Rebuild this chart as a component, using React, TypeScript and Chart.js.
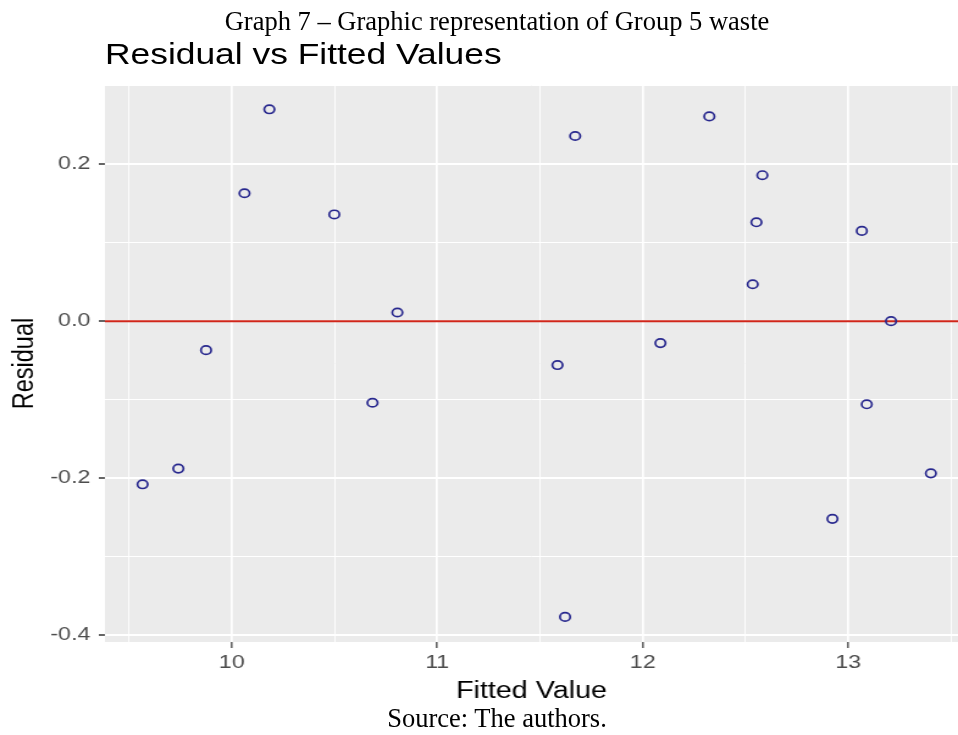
import React, { useEffect, useRef } from 'react';
import { Chart, registerables } from 'chart.js';

Chart.register(...registerables);

// ---- data ----
const fittedValues = [
  9.566, 9.740, 9.875, 10.062, 10.183, 10.499, 10.685, 10.806, 11.585, 11.622, 11.671,
  12.086, 12.324, 12.535, 12.553, 12.582, 12.923, 13.066, 13.090, 13.208, 13.402,
];
const residuals = [
  -0.208, -0.188, -0.037, 0.163, 0.270, 0.136, -0.104, 0.011, -0.056, -0.377, 0.236,
  -0.028, 0.261, 0.047, 0.126, 0.186, -0.252, 0.115, -0.106, 0.000, -0.194,
];
const referenceResidual = 0;
const xRange = [9.383, 13.534];
const yRange = [-0.409, 0.301];
const xTickStep = 0.5;
const yTickStep = 0.1;

const CAPTION = 'Graph 7 \u2013 Graphic representation of Group 5 waste';
const PLOT_TITLE = 'Residual vs Fitted Values';
const X_TITLE = 'Fitted Value';
const Y_TITLE = 'Residual';
const SOURCE = 'Source: The authors.';

// ---- layout ----
const PAGE_W = 958;
const PAGE_H = 735;
const INNER_W = 785; // chart drawn at this width then stretched horizontally (as in the reference)
const STRETCH = PAGE_W / INNER_W;
const SANS = "'Liberation Sans', Arial, Helvetica, sans-serif";
const SERIF = "'Liberation Serif', 'Times New Roman', Times, serif";

const isMajorX = (v: number) => Math.abs(v - Math.round(v)) < 1e-6;
const isMajorY = (v: number) => Math.abs(Math.round(v * 10)) % 2 === 0;

const panelBackground = {
  id: 'panelBackground',
  beforeDraw(chart: any) {
    const { ctx, chartArea: a } = chart;
    ctx.save();
    ctx.fillStyle = '#EBEBEB';
    ctx.fillRect(a.left, a.top, a.right - a.left, a.bottom - a.top);
    ctx.restore();
  },
};

export default function App() {
  const canvasRef = useRef<HTMLCanvasElement | null>(null);

  useEffect(() => {
    const canvas = canvasRef.current;
    if (!canvas) return;
    const points = fittedValues.map((x, i) => ({ x, y: residuals[i] }));
    const refLine = [
      { x: xRange[0], y: referenceResidual },
      { x: xRange[1], y: referenceResidual },
    ];
    const chart = new Chart(canvas, {
      type: 'scatter',
      data: {
        datasets: [
          {
            label: 'Residuals',
            data: points,
            pointStyle: 'circle',
            pointRadius: 4.2,
            pointBorderWidth: 1.7,
            pointBorderColor: '#28288e',
            pointBackgroundColor: 'rgba(0,0,0,0)',
            showLine: false,
          },
          {
            label: 'Zero',
            data: refLine,
            showLine: true,
            borderColor: '#d0261a',
            borderWidth: 2,
            pointRadius: 0,
          },
        ],
      },
      options: {
        responsive: false,
        animation: false,
        layout: { autoPadding: false, padding: { top: 85, right: 0, bottom: 0, left: 0 } },
        plugins: {
          legend: { display: false },
          tooltip: { enabled: false },
          title: { display: false },
        },
        scales: {
          x: {
            type: 'linear',
            min: xRange[0],
            max: xRange[1],
            afterFit: (scale: any) => {
              scale.height = 93;
              scale.paddingLeft = 0;
              scale.paddingRight = 0;
            },
            border: { display: false },
            grid: {
              color: '#FFFFFF',
              lineWidth: (ctx: any) => (ctx.tick && isMajorX(ctx.tick.value) ? 1.7 : 0.9),
              drawTicks: true,
              tickLength: 6,
              tickWidth: 1.2,
              tickColor: (ctx: any) => (ctx.tick && isMajorX(ctx.tick.value) ? '#333333' : 'rgba(0,0,0,0)'),
            },
            ticks: {
              stepSize: xTickStep,
              includeBounds: false,
              autoSkip: false,
              maxRotation: 0,
              minRotation: 0,
              padding: 3,
              color: '#4D4D4D',
              font: { family: SANS, size: 19 },
              callback: (v: any) => (isMajorX(Number(v)) ? String(Math.round(Number(v))) : ''),
            },
            title: {
              display: true,
              text: X_TITLE,
              color: '#000000',
              font: { family: SANS, size: 23.5 },
              padding: { top: 0, bottom: 29 },
            },
          },
          y: {
            type: 'linear',
            min: yRange[0],
            max: yRange[1],
            afterFit: (scale: any) => {
              scale.width = 86;
            },
            border: { display: false },
            grid: {
              color: '#FFFFFF',
              lineWidth: (ctx: any) => (ctx.tick && isMajorY(ctx.tick.value) ? 2 : 1),
              drawTicks: true,
              tickLength: 5,
              tickWidth: 1.5,
              tickColor: (ctx: any) => (ctx.tick && isMajorY(ctx.tick.value) ? '#333333' : 'rgba(0,0,0,0)'),
            },
            ticks: {
              stepSize: yTickStep,
              includeBounds: false,
              autoSkip: false,
              padding: 7,
              color: '#4D4D4D',
              font: { family: SANS, size: 19 },
              callback: (v: any) => (isMajorY(Number(v)) ? Number(v).toFixed(1) : ''),
            },
            title: {
              display: true,
              text: Y_TITLE,
              color: '#000000',
              font: { family: SANS, size: 23.5 },
              padding: { top: 6, bottom: 0 },
            },
          },
        },
      },
      plugins: [panelBackground],
    } as any);
    return () => chart.destroy();
  }, []);

  return (
    <div
      style={{
        position: 'absolute',
        left: 0,
        top: 0,
        width: PAGE_W,
        height: PAGE_H,
        overflow: 'hidden',
        background: '#FFFFFF',
      }}
    >
      <div
        style={{
          position: 'absolute',
          left: 0,
          top: 0,
          width: INNER_W,
          height: PAGE_H,
          transform: `scaleX(${STRETCH})`,
          transformOrigin: '0 0',
        }}
      >
        <canvas ref={canvasRef} width={INNER_W} height={PAGE_H} style={{ display: 'block' }} />
        <div
          style={{
            position: 'absolute',
            left: 86,
            top: 40,
            fontFamily: SANS,
            fontSize: 29,
            lineHeight: '29px',
            color: '#000000',
            whiteSpace: 'nowrap',
          }}
        >
          {PLOT_TITLE}
        </div>
      </div>
      <div
        style={{
          position: 'absolute',
          left: 497,
          top: 8,
          transform: 'translateX(-50%)',
          fontFamily: SERIF,
          fontSize: 26.5,
          lineHeight: '26.5px',
          color: '#000000',
          whiteSpace: 'nowrap',
        }}
      >
        {CAPTION}
      </div>
      <div
        style={{
          position: 'absolute',
          left: 497,
          top: 705,
          transform: 'translateX(-50%)',
          fontFamily: SERIF,
          fontSize: 26.5,
          lineHeight: '26.5px',
          color: '#000000',
          whiteSpace: 'nowrap',
        }}
      >
        {SOURCE}
      </div>
    </div>
  );
}
